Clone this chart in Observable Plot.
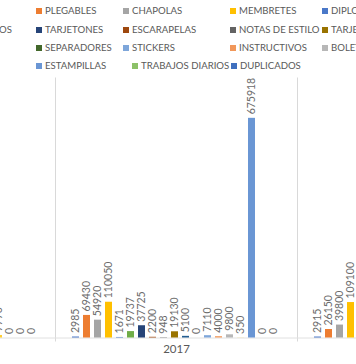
<!DOCTYPE html>
<html>
<head>
<meta charset="utf-8">
<script src="https://cdn.jsdelivr.net/npm/d3@7"></script>
<script src="https://cdn.jsdelivr.net/npm/@observablehq/plot@0.6"></script>
<style>
  html, body { margin: 0; padding: 0; background: #fff; }
  body { width: 356px; height: 364px; overflow: hidden; position: relative; font-family: Lato, "Open Sans", sans-serif; }
  #chart { position: absolute; top: 0; left: -187px; width: 726px; height: 364px; }
  #chart svg { max-width: none !important; }
  #legend { position: absolute; top: 0; left: 0; width: 356px; height: 80px; }
  .item { position: absolute; white-space: nowrap; font-size: 9.6px; color: #595959; line-height: 12px; }
  .sw { display: inline-block; width: 6px; height: 6px; margin-right: 3px; vertical-align: 0px; }
</style>
</head>
<body>
<div id="legend"></div>
<div id="chart"></div>
<script>
// ---- data ----
const years = ["2016", "2017", "2018"];
const series = ["AFICHES", "PLEGABLES", "CHAPOLAS", "MEMBRETES", "DIPLOMAS",
  "TALONARIOS", "TARJETONES", "ESCARAPELAS", "NOTAS DE ESTILO", "TARJETAS",
  "SOBRES", "SEPARADORES", "STICKERS", "INSTRUCTIVOS", "BOLETAS",
  "CARNETS", "ESTAMPILLAS", "TRABAJOS DIARIOS", "DUPLICADOS"];
const colors = ["#4472C4", "#ED7D31", "#A5A5A5", "#FFC000", "#4A78C8",
  "#70AD47", "#264478", "#9E480E", "#636363", "#997300",
  "#255E91", "#43682B", "#7EA6DA", "#F1975A", "#B7B7B7",
  "#FFCD33", "#6A96D4", "#8CC168", "#3F70BF"];
const values2016 = [null, null, null, null, null, null, null, null, null, null,
  null, null, null, null, null, 7770, 0, 0, 0];
const values2017 = [2985, 69430, 54920, 110050, 1671, 19737, 37725, 2200, 948, 19130,
  5100, 0, 7110, 4000, 9800, 350, 675918, 0, 0];
const values2018 = [2915, 26150, 39800, 109100, null, null, null, null, null, null,
  null, null, null, null, null, null, null, null, null];

// legend layout (rows of 5 entries, Excel style)
const legendCols = [-60, 36, 123, 230, 322];
const legendRowY = [11, 29.5, 48, 66];

const allValues = [values2016, values2017, values2018];
const data = [];
years.forEach((yr, yi) => series.forEach((s, si) => {
  const v = allValues[yi][si];
  if (v != null) data.push({year: yr, series: s, value: v});
}));

const chart = Plot.plot({
  width: 726,
  height: 364,
  marginTop: 77.5,
  marginBottom: 26.5,
  marginLeft: 0,
  marginRight: 0,
  style: {fontFamily: "Lato, 'Open Sans', sans-serif", background: "transparent", color: "#595959", overflow: "visible", maxWidth: "none"},
  fx: {domain: years, padding: 0, label: null},
  x: {domain: series, padding: 0.4, insetLeft: 6.5, insetRight: 9, axis: null},
  y: {domain: [0, 800000], axis: null},
  color: {domain: series, range: colors},
  marks: [
    Plot.frame({anchor: "left", stroke: "#d9d9d9", insetBottom: -3}),
    Plot.ruleY([0], {stroke: "#e0e0e0"}),
    Plot.barY(data, {fx: "year", x: "series", y: "value", fill: "series"}),
    Plot.text(data, {fx: "year", x: "series", y: "value", text: d => String(d.value),
      rotate: -90, textAnchor: "start", lineAnchor: "middle", dy: -4, fill: "#6b6b6b", fontSize: 10.5}),
    Plot.axisFx({anchor: "bottom", tickSize: 0, tickPadding: 7, fontSize: 11.5, label: null, fill: "#595959"})
  ]
});
document.getElementById("chart").appendChild(chart);

// legend
const legend = document.getElementById("legend");
series.forEach((s, i) => {
  const row = Math.floor(i / 5), col = i % 5;
  const el = document.createElement("div");
  el.className = "item";
  let left = legendCols[col];
  if (row === 3 && col === 2) left = 132;
  if (row === 3 && col === 3) left = 231;
  el.style.top = (legendRowY[row] - 6) + "px";
  const sw = document.createElement("span");
  sw.className = "sw";
  sw.style.background = colors[i];
  el.appendChild(sw);
  el.appendChild(document.createTextNode(s));
  legend.appendChild(el);
  if (col === 0) {
    el.style.left = "0px";
    const w = el.getBoundingClientRect().width;
    const ends = [-4, 12, -6, -4];
    el.style.left = (ends[row] - w) + "px";
  } else {
    el.style.left = left + "px";
  }
});
</script>
</body>
</html>
